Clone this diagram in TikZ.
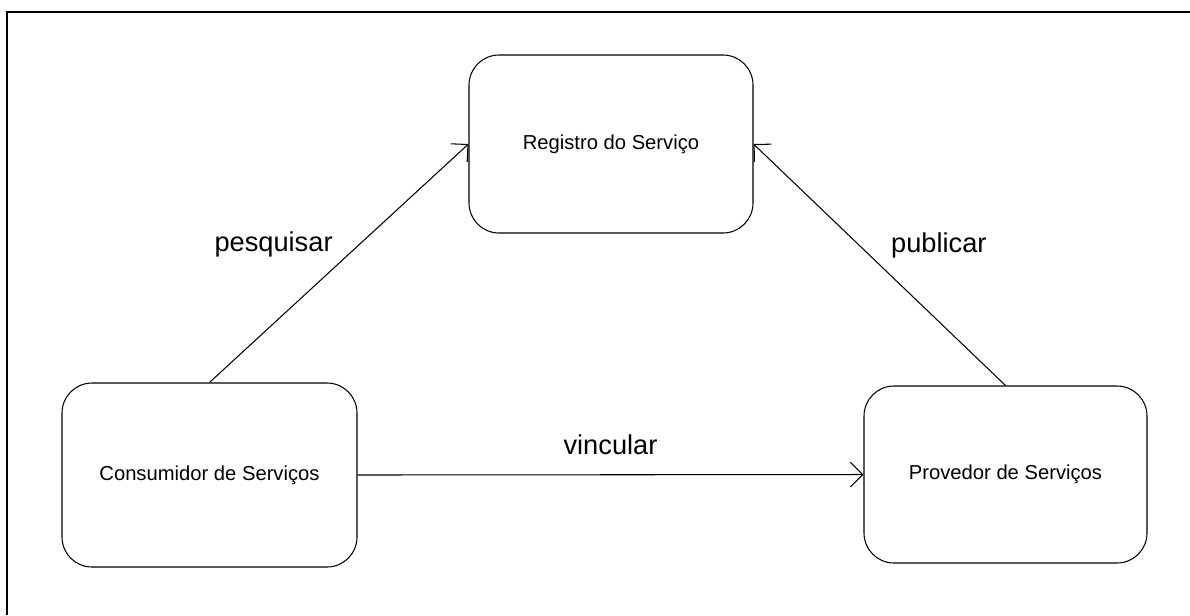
\documentclass[tikz,border=0pt]{standalone}
\usepackage{fontspec}
\setmainfont{Liberation Sans}
\usetikzlibrary{arrows.meta,positioning}

\begin{document}
\begin{tikzpicture}[x=0.2mm,y=-0.2mm,>={Straight Barb[length=7pt,width=14pt]},box/.style={draw,rounded corners=6mm,line width=.6pt,align=center,font=\fontsize{11.5}{13}\selectfont},lab/.style={font=\fontsize{15.5}{18}\selectfont},arr/.style={->,line width=.6pt}]
\useasboundingbox (0,0) rectangle (1190,615);
\draw[line width=1pt] (7,615) |- (1190,12);
\node[box,minimum width=5.68cm,minimum height=3.56cm] (reg) at (611,144) {Registro do Serviço};
\node[box,minimum width=5.9cm,minimum height=3.68cm] (cons) at (209.5,475) {Consumidor de Serviços};
\node[box,minimum width=5.66cm,minimum height=3.54cm] (prov) at (1005.5,474.5) {Provedor de Serviços};
\draw[arr] (cons.north)--node[lab,pos=.5,anchor=south east]{pesquisar} (reg.west);
\draw[arr] (prov.north)--node[lab,pos=.5,anchor=south west,xshift=3pt]{publicar} (reg.east);
\draw[arr] (cons.east)--node[lab,above=8pt]{vincular} (prov.west);
\end{tikzpicture}
\end{document}
